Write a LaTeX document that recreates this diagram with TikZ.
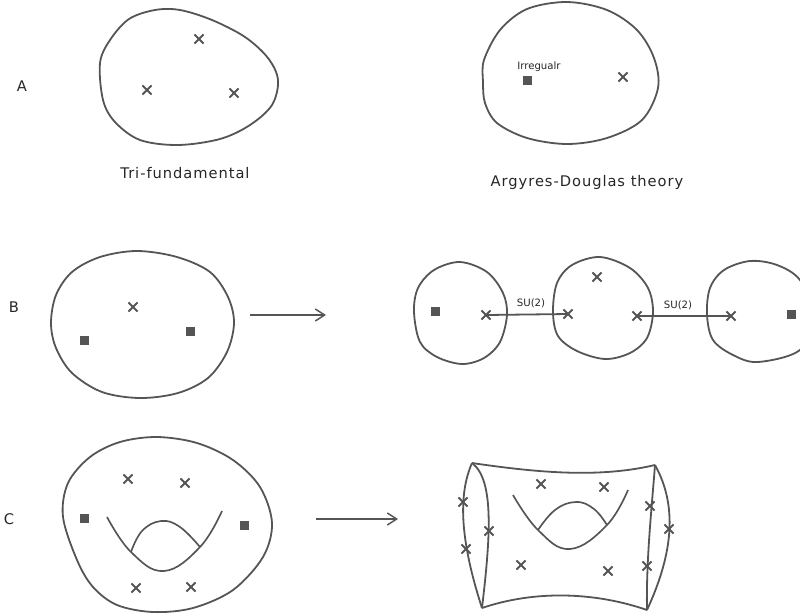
\documentclass[tikz,border=0pt]{standalone}
\usepackage{fontspec}
\setmainfont{DejaVu Sans}
\newfontfamily\widefont[LetterSpace=6.5]{DejaVu Sans}
\usetikzlibrary{arrows.meta,shapes.misc}
\definecolor{ink}{HTML}{555555}
\tikzset{
  blob/.style={draw=ink,line width=1.35pt,smooth cycle,tension=0.55},
  thin curve/.style={draw=ink,line width=1.25pt,smooth,tension=0.7},
  xmark/.style={cross out,draw=ink,line width=1.4pt,minimum size=6.8pt,inner sep=0pt,outer sep=0pt},
  sq/.style={fill=ink,draw=none,minimum size=6.8pt,inner sep=0pt,outer sep=0pt,rectangle},
  lab/.style={text=black!85,font=\widefont\fontsize{11pt}{13pt}\selectfont,inner sep=0pt},
  small/.style={text=black!85,font=\fontsize{7.6pt}{9pt}\selectfont,inner sep=0pt},
  gauge/.style={draw=ink,line width=1.35pt},
  map/.style={draw=ink,line width=1.35pt,-{Straight Barb[length=7pt,width=9pt,line width=1.1pt]}}
}
\begin{document}
\begin{tikzpicture}[x=0.75pt,y=-0.75pt]
\useasboundingbox (0,0) rectangle (800,615);
\clip (0,0) rectangle (800,615);
% row A
\node[lab] (la) at (22,86) {A};
\path[blob] plot coordinates {(100,63)(110,40)(129,19)(155,10)(180,10)(212,20)(245,37)(268,58)(278,80)(272,105)(250,125)(220,139)(178,145)(140,140)(115,122)(103,100)};
\node[xmark] (a1) at (199,39) {};
\node[xmark] (a2) at (147,90) {};
\node[xmark] (a3) at (234,93) {};
\node[lab] (tri) at (185,173) {Tri-fundamental};
\path[blob] plot coordinates {(484,60)(500,30)(527,9)(567,2)(607,10)(637,30)(654,58)(658,88)(642,120)(607,138)(567,144)(527,138)(497,123)(485,103)(483,82)};
\node[sq] (a4) at (527.5,80.5) {};
\node[small] (irr) at (539,67) {Irregualr};
\node[xmark] (a5) at (623,77) {};
\node[lab] (ad) at (587,182) {Argyres-Douglas theory};
% row B
\node[lab] (lb) at (14,307) {B};
\path[blob] plot coordinates {(51,323)(56,295)(72,272)(100,257)(137,251)(177,257)(210,272)(228,297)(234,323)(227,352)(208,378)(178,393)(140,398)(102,392)(72,373)(56,348)};
\node[xmark] (b1) at (133,307) {};
\node[sq] (b2) at (84.5,340.5) {};
\node[sq] (b3) at (190.5,331.5) {};
\coordinate (ms) at (250,315);
\coordinate (me) at (326,315);
\draw[map] (ms) -- (me);
\path[blob] plot coordinates {(414,312)(418,288)(434,270)(460,262)(487,272)(503,293)(507,315)(500,342)(484,358)(462,364)(437,357)(420,342)};
\node[sq] (b4) at (435.5,311.5) {};
\node[xmark] (b5) at (486,315) {};
\path[blob] plot coordinates {(553,312)(557,283)(572,265)(600,257)(630,268)(648,288)(653,312)(647,338)(630,353)(605,359)(577,351)(558,336)};
\node[xmark] (b6) at (568,314) {};
\node[xmark] (b7) at (597,277) {};
\node[xmark] (b8) at (637,316) {};
\path[blob] plot coordinates {(707,315)(710,288)(724,270)(750,261)(777,265)(800,280)(815,315)(800,350)(758,362)(733,355)(713,340)};
\node[xmark] (b9) at (731,316) {};
\node[sq] (b10) at (791.5,314.5) {};
\draw[gauge] (b5.center) -- (b6.center);
\draw[gauge] (b8.center) -- (b9.center);
\node[small] (su1) at (531,303) {SU(2)};
\node[small] (su2) at (678,305) {SU(2)};
% row C
\node[lab] (lc) at (9,519) {C};
\path[blob] plot coordinates {(63,517)(68,483)(90,457)(120,442)(157,437)(197,443)(233,460)(260,487)(272,523)(263,557)(233,590)(193,608)(153,612)(117,605)(93,587)(77,560)};
\node[xmark] (c1) at (128,479) {};
\node[xmark] (c2) at (185,483) {};
\node[xmark] (c3) at (136,588) {};
\node[xmark] (c4) at (191,587) {};
\node[sq] (c5) at (84.5,518.5) {};
\node[sq] (c6) at (244.5,525.5) {};
\path[thin curve] plot coordinates {(107,517)(131,552)(164,571)(200,547)(222,511)};
\path[thin curve] plot coordinates {(131,552)(142,531)(161,521)(180,527)(200,547)};
\coordinate (ns) at (316,519);
\coordinate (ne) at (398,519);
\draw[map] (ns) -- (ne);
% torus with boundaries
\coordinate (t1) at (472,463);
\coordinate (t2) at (655,465);
\coordinate (t3) at (647,610);
\coordinate (t4) at (482,608);
\draw[gauge] (t1) .. controls (540,473) and (600,478) .. (t2);
\draw[gauge] (t4) .. controls (535,590) and (595,592) .. (t3);
\draw[gauge] (t1) .. controls (458,495) and (460,540) .. (t4);
\draw[gauge] (t1) .. controls (495,480) and (490,540) .. (t4);
\draw[gauge] (t2) .. controls (652,505) and (646,560) .. (t3);
\draw[gauge] (t2) .. controls (680,510) and (670,560) .. (t3);
\path[thin curve] plot coordinates {(513,495)(538,530)(570,549)(607,525)(628,490)};
\path[thin curve] plot coordinates {(538,530)(555,510)(576,502)(594,509)(607,525)};
\node[xmark] (d1) at (541,484) {};
\node[xmark] (d2) at (604,487) {};
\node[xmark] (d3) at (521,565) {};
\node[xmark] (d4) at (608,571) {};
\node[xmark] (d5) at (463,502) {};
\node[xmark] (d6) at (489,531) {};
\node[xmark] (d7) at (466,549) {};
\node[xmark] (d8) at (650,506) {};
\node[xmark] (d9) at (647,566) {};
\node[xmark] (d10) at (669,529) {};
\end{tikzpicture}
\end{document}
